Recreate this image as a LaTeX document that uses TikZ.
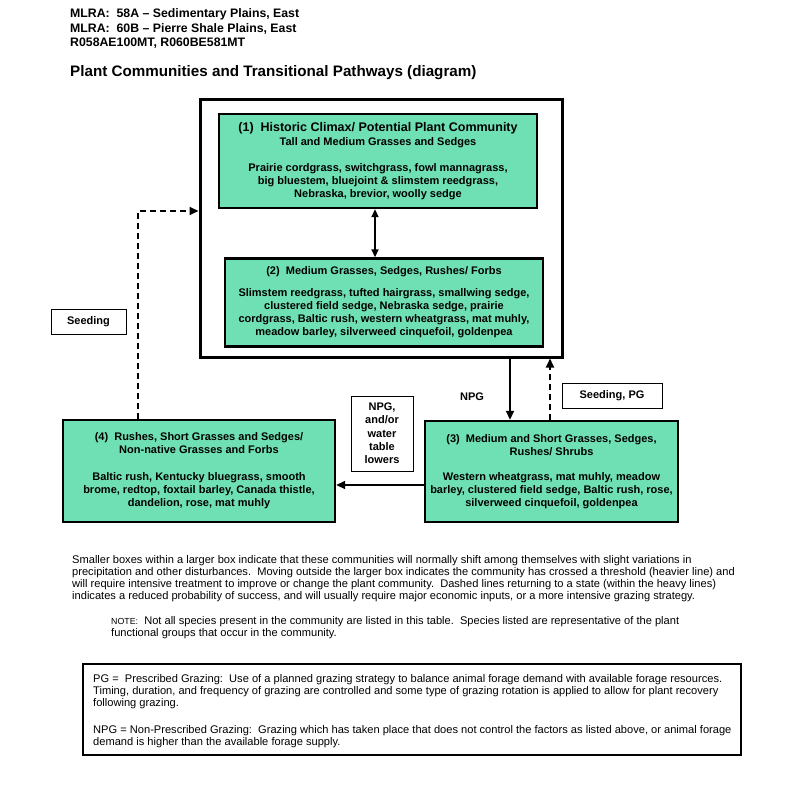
\documentclass[tikz,border=0pt]{standalone}
\usepackage{fontspec}
\setmainfont{Liberation Sans}
\usetikzlibrary{arrows.meta,calc}
\definecolor{boxgreen}{RGB}{110,224,180}
\newcommand\ttlfont{\fontsize{12.5}{14}\selectfont}
\begin{document}
\begin{tikzpicture}[x=1pt,y=-1pt,
  comm/.style={draw=black,line width=2.4pt,fill=boxgreen,align=center,inner sep=0pt,
    font=\fontsize{11}{13}\selectfont\bfseries},
  outerbox/.style={draw=black,line width=3pt,inner sep=0pt},
  lab/.style={draw=black,line width=0.9pt,fill=white,align=center,inner sep=0pt,
    font=\fontsize{11}{13.3}\selectfont\bfseries},
  arr/.style={line width=1.8pt,-{Triangle[length=9pt,width=8pt]}},
  dbl/.style={line width=1.8pt,{Triangle[length=8pt,width=7pt]}-{Triangle[length=8pt,width=7pt]}},
  dsh/.style={arr,dash pattern=on 6pt off 4pt},
  hdr/.style={anchor=west,inner sep=0pt,font=\fontsize{12.3}{13}\selectfont\bfseries},
  body/.style={anchor=north west,inner sep=0pt,align=left,font=\fontsize{11.1}{12}\selectfont}
]
\useasboundingbox (0,0) rectangle (800,802);

% header
\node[hdr] (h1) at (70,14) {MLRA:~~58A -- Sedimentary Plains, East};
\node[hdr] (h2) at (70,28.5) {MLRA:~~60B -- Pierre Shale Plains, East};
\node[hdr] (h3) at (70,43) {R058AE100MT, R060BE581MT};
\node[hdr,font=\fontsize{15.2}{16}\selectfont\bfseries] (title) at (70,73) {Plant Communities and Transitional Pathways (diagram)};

% outer box
\node[outerbox,minimum width=362pt,minimum height=257pt] (outer) at (381,228.5) {};

% communities
\node[comm,minimum width=318pt,minimum height=94pt] (c1) at (378,161) {%
  {\ttlfont (1)~~Historic Climax/ Potential Plant Community}\\[1pt]
  Tall and Medium Grasses and Sedges\\[13pt]
  Prairie cordgrass, switchgrass, fowl mannagrass,\\
  big bluestem, bluejoint \& slimstem reedgrass,\\
  Nebraska, brevior, woolly sedge};
\node[comm,minimum width=318pt,minimum height=88pt] (c2) at (384,302.5) {%
  (2)~~Medium Grasses, Sedges, Rushes/ Forbs\\[9pt]
  Slimstem reedgrass, tufted hairgrass, smallwing sedge,\\
  clustered field sedge, Nebraska sedge, prairie\\
  cordgrass, Baltic rush, western wheatgrass, mat muhly,\\
  meadow barley, silverweed cinquefoil, goldenpea};
\node[comm,minimum width=253pt,minimum height=101pt] (c3) at (551.5,471.5) {%
  (3)~~Medium and Short Grasses, Sedges,\\
  Rushes/ Shrubs\\[12pt]
  Western wheatgrass, mat muhly, meadow\\
  barley, clustered field sedge, Baltic rush, rose,\\
  silverweed cinquefoil, goldenpea};
\node[comm,minimum width=272pt,minimum height=102pt] (c4) at (199,471) {%
  (4)~~Rushes, Short Grasses and Sedges/\\
  Non-native Grasses and Forbs\\[14pt]
  Baltic rush, Kentucky bluegrass, smooth\\
  brome, redtop, foxtail barley, Canada thistle,\\
  dandelion, rose, mat muhly};

% labels
\node[lab,minimum width=75pt,minimum height=25pt] (seed) at (88.5,321.5) {Seeding};
\node[lab,minimum width=100pt,minimum height=25pt] (seedpg) at (612,395.5) {Seeding, PG};
\node[lab,minimum width=62pt,minimum height=75pt] (npgbox) at (382,433.5) {NPG,\\and/or\\water\\table\\lowers};
\node[inner sep=0pt,font=\fontsize{11}{12}\selectfont\bfseries] (npg) at (472,397) {NPG};

% connector coordinates
\coordinate (xd) at (375,0);
\coordinate (xa) at (510,0);
\coordinate (xb) at (550,0);
\coordinate (xc) at (138,0);
\coordinate (ya) at (0,485);
\coordinate (yc) at (0,211);

\draw[dbl] (c1.south -| xd) -- (c2.north -| xd);
\draw[arr] (outer.south -| xa) -- (c3.north -| xa);
\draw[dsh] (c3.north -| xb) -- (outer.south -| xb);
\draw[arr] (c3.west |- ya) -- (c4.east |- ya);
\draw[dsh] (c4.north -| xc) |- (outer.west |- yc);

% explanatory text
\node[body] (para) at (72,555) {%
Smaller boxes within a larger box indicate that these communities will normally shift among themselves with slight variations in\\
precipitation and other disturbances.~~Moving outside the larger box indicates the community has crossed a threshold (heavier line) and\\
will require intensive treatment to improve or change the plant community.~~Dashed lines returning to a state (within the heavy lines)\\
indicates a reduced probability of success, and will usually require major economic inputs, or a more intensive grazing strategy.};

\node[body] (note) at (111,616) {%
{\fontsize{8.8}{12}\selectfont NOTE:}~~Not all species present in the community are listed in this table.~~Species listed are representative of the plant\\
functional groups that occur in the community.};

% legend
\node[draw=black,line width=1.1pt,inner sep=0pt,minimum width=658pt,minimum height=91pt] (legend) at (412,709.5) {};
\node[body] (legtext) at (93,674) {%
PG =~~Prescribed Grazing:~~Use of a planned grazing strategy to balance animal forage demand with available forage resources.\\
Timing, duration, and frequency of grazing are controlled and some type of grazing rotation is applied to allow for plant recovery\\
following grazing.\\[15pt]
NPG = Non-Prescribed Grazing:~~Grazing which has taken place that does not control the factors as listed above, or animal forage\\
demand is higher than the available forage supply.};
\end{tikzpicture}
\end{document}
